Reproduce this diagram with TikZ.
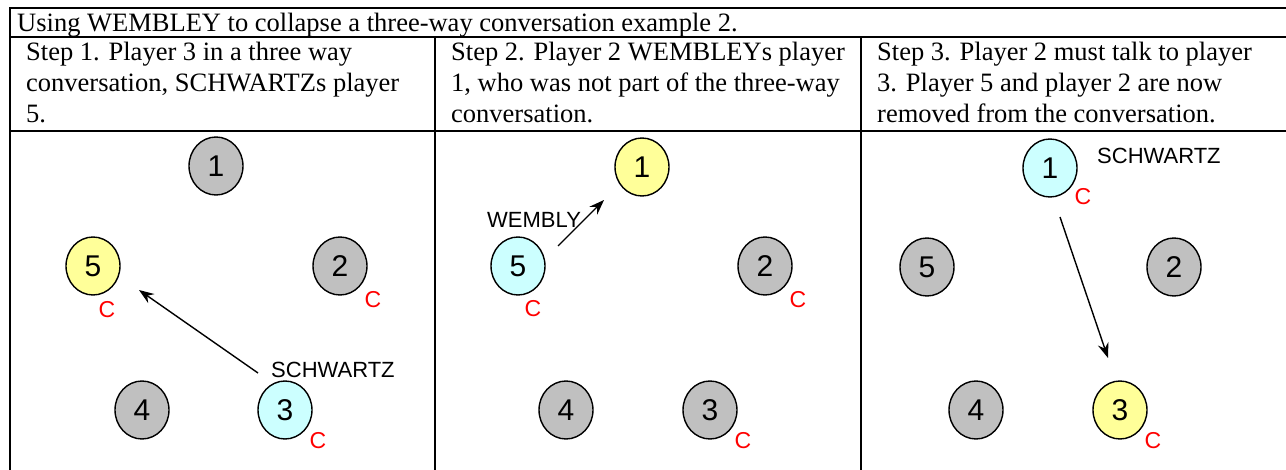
\documentclass[tikz,border=0pt]{standalone}
\usepackage{fontspec}
\setmainfont{Liberation Serif}
\setsansfont{Liberation Sans}
\usetikzlibrary{arrows.meta}
\usetikzlibrary{shapes.geometric}
\definecolor{pgrey}{RGB}{192,192,192}
\definecolor{pyellow}{RGB}{255,255,153}
\definecolor{pcyan}{RGB}{204,255,255}

\begin{document}
\begin{tikzpicture} [
    x=1pt, y=-1pt,
    f/.style={line width=1.4pt,-{Stealth[length=15pt,width=11pt,inset=5pt]}},
    rule/.style={line width=2pt},
    cell/.style={
        anchor=north west, align=left, inner sep=0pt,
        font=\fontsize{26.5}{31}\selectfont
    },
    player/.style={
        ellipse, draw, line width=1.4pt,
        minimum width=54pt, minimum height=58pt, inner sep=0pt,
        font=\sffamily\fontsize{30}{30}\selectfont
    },
    idle/.style={player, fill=pgrey},
    target/.style={player, fill=pyellow},
    caller/.style={player, fill=pcyan},
    cmark/.style={text=red, inner sep=0pt, font=\sffamily\fontsize{23}{23}\selectfont},
    call/.style={anchor=base west, inner sep=0pt, font=\sffamily\fontsize{22}{22}\selectfont}
]

\useasboundingbox (0,0) rectangle (1286,470);
\clip (0,0) rectangle (1286,470);

% table
\draw [rule] (10,480) -- (10,8) -- (1292,8) -- (1292,480);
\draw [rule] (10,37) -- (1292,37);
\draw [rule] (10,131) -- (1292,131);
\draw [rule] (435,37) -- (435,480);
\draw [rule] (861,37) -- (861,480);

\node [anchor=base west, inner sep=0pt, font=\fontsize{26.5}{31}\selectfont] (title) at (17,32)
    {Using WEMBLEY to collapse a three-way conversation example 2.};
\node [cell] (h1) at (26,42)
    {Step 1. Player 3 in a three way\\conversation, SCHWARTZs player\\5.};
\node [cell] (h2) at (451,42)
    {Step 2. Player 2 WEMBLEYs player\\1, who was not part of the three-way\\conversation.};
\node [cell] (h3) at (877,42)
    {Step 3. Player 2 must talk to player\\3. Player 5 and player 2 are now\\removed from the conversation.};

% step 1
\node [idle]   (p11) at (216,166) {1};
\node [target] (p15) at (93,266)  {5};
\node [idle]   (p12) at (340,266) {2};
\node [idle]   (p14) at (142,410) {4};
\node [caller] (p13) at (285,410) {3};
\node [cmark] (c15) at (107,310) {C};
\node [cmark] (c12) at (373,300) {C};
\node [cmark] (c13) at (318,441) {C};
\coordinate (a1s) at (258,373);
\coordinate (a1e) at (139,290);
\draw [f] (a1s) -- (a1e);
\node [call] (s1) at (271,378) {SCHWARTZ};

% step 2
\node [target] (p21) at (642,167) {1};
\node [caller] (p25) at (518,266) {5};
\node [idle]   (p22) at (765,266) {2};
\node [idle]   (p24) at (566,410) {4};
\node [idle]   (p23) at (710,410) {3};
\node [cmark] (c25) at (533,309) {C};
\node [cmark] (c22) at (798,300) {C};
\node [cmark] (c23) at (743,441) {C};
\coordinate (a2s) at (558,246);
\coordinate (a2e) at (604,200);
\draw [f] (a2s) -- (a2e);
\node [call] (s2) at (487,228) {WEMBLY};

% step 3
\node [caller] (p31) at (1050,168) {1};
\node [idle]   (p35) at (927,267)  {5};
\node [idle]   (p32) at (1174,267) {2};
\node [idle]   (p34) at (976,410)  {4};
\node [target] (p33) at (1120,410) {3};
\node [cmark] (c31) at (1083,197) {C};
\node [cmark] (c33) at (1153,441) {C};
\coordinate (a3s) at (1060,217);
\coordinate (a3e) at (1108,358);
\draw [f] (a3s) -- (a3e);
\node [call] (s3) at (1097,164) {SCHWARTZ};

\end{tikzpicture}
\end{document}
